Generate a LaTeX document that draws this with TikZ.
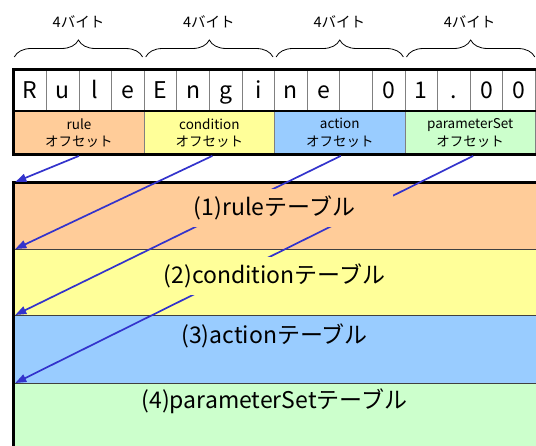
\documentclass[tikz,border=0pt]{standalone}
\usepackage{fontspec}
\setmainfont{Noto Sans CJK JP}
\usetikzlibrary{arrows.meta,decorations.pathreplacing}
\definecolor{cRule}{HTML}{FFCC99}
\definecolor{cCond}{HTML}{FFFF99}
\definecolor{cAct}{HTML}{99CCFF}
\definecolor{cParam}{HTML}{CCFFCC}
\definecolor{cArrow}{HTML}{3333CC}
\definecolor{cGrid}{HTML}{808080}
\begin{document}
\begin{tikzpicture}[x=1pt,y=-1pt,
  charcell/.style={draw=cGrid,line width=0.9pt,fill=white,minimum width=32.6pt,minimum height=42pt,
    inner sep=0pt,anchor=north west,font=\fontsize{23}{23}\selectfont,text height=17pt,text depth=0pt},
  offbox/.style={draw=cGrid,line width=0.9pt,minimum width=130.4pt,minimum height=43pt,inner sep=0pt,
    anchor=north west,align=center,font=\fontsize{13.5}{17.5}\selectfont},
  rowbox/.style={draw=black!75,line width=1.3pt,minimum width=540pt,inner sep=0pt,anchor=north west},
  rowtext/.style={inner sep=0pt,minimum width=236pt,minimum height=38pt,font=\fontsize{23}{23}\selectfont},
  bytelabel/.style={font=\fontsize{14.5}{14.5}\selectfont,inner sep=0pt},
  bytebrace/.style={decorate,decoration={brace,amplitude=17pt},line width=0.8pt},
  thickline/.style={line width=3pt,line cap=rect},
  ptr/.style={draw=cArrow,line width=1.7pt,-{Triangle[length=11pt,width=8pt]},color=cArrow}
]
\useasboundingbox (0,0) rectangle (536,445);
\clip (0,0) rectangle (536,445);

% header character cells
\foreach \ch [count=\i from 0] in {R,u,l,e,E,n,g,i,n,e,{},0,1,.,0,0}{
  \node[charcell] (c\i) at ({13.3+32.6*\i},69) {\ch};
}
% offset boxes
\node[offbox,fill=cRule]  (o1) at (13.3,111)  {rule\\オフセット};
\node[offbox,fill=cCond]  (o2) at (143.7,111) {condition\\オフセット};
\node[offbox,fill=cAct]   (o3) at (274.1,111) {action\\オフセット};
\node[offbox,fill=cParam] (o4) at (404.5,111) {parameterSet\\オフセット};

% header thick lines
\draw[thickline] (c0.north west) -- ++(540,0);
\draw[line width=2pt] (o1.north west) -- ++(540,0);
\draw[thickline] (o1.south west) -- ++(540,0);
\draw[thickline] (c0.north west) -- (o1.south west);

% braces and labels
\draw[bytebrace] ([xshift=1pt,yshift=12pt]c0.north west) -- ([xshift=-2pt,yshift=12pt]c3.north east);
\draw[bytebrace] ([xshift=2pt,yshift=12pt]c4.north west) -- ([xshift=-2pt,yshift=12pt]c7.north east);
\draw[bytebrace] ([xshift=2pt,yshift=12pt]c8.north west) -- ([xshift=-2pt,yshift=12pt]c11.north east);
\draw[bytebrace] ([xshift=2pt,yshift=12pt]c12.north west) -- ([xshift=-1pt,yshift=12pt]c15.north east);
\node[bytelabel] (b1) at (78.5,22)  {4バイト};
\node[bytelabel] (b2) at (208.9,22) {4バイト};
\node[bytelabel] (b3) at (339.3,22) {4バイト};
\node[bytelabel] (b4) at (469.7,22) {4バイト};

% table rows
\node[rowbox,fill=cRule,minimum height=67pt]  (r1) at (13.3,182) {};
\node[rowbox,fill=cCond,minimum height=66pt]  (r2) at (13.3,249) {};
\node[rowbox,fill=cAct,minimum height=68pt]   (r3) at (13.3,315) {};
\node[rowbox,fill=cParam,minimum height=80pt] (r4) at (13.3,383) {};

\draw[thickline] (r1.north west) -- ++(540,0);
\draw[thickline] (r1.north west) -- ++(0,280);

% pointers
\draw[ptr] ([yshift=-1pt]o1.south) -- ([xshift=2pt]r1.north west);
\draw[ptr] ([xshift=3pt,yshift=-1pt]o2.south) -- ([xshift=2pt]r2.north west);
\draw[ptr] ([xshift=1pt,yshift=-1pt]o3.south) -- ([xshift=2pt]r3.north west);
\draw[ptr] ([xshift=3pt,yshift=-1pt]o4.south) -- ([xshift=2pt]r4.north west);

% row texts
\node[rowtext,fill=cRule]  (t1) at (274.5,208) {(1)ruleテーブル};
\node[rowtext,fill=cCond]  (t2) at (274.5,276) {(2)conditionテーブル};
\node[rowtext,fill=cAct,minimum height=34pt]   (t3) at (274.5,336) {(3)actionテーブル};
\node[rowtext,fill=cParam,minimum height=30pt] (t4) at (274.5,401) {(4)parameterSetテーブル};
\end{tikzpicture}
\end{document}
